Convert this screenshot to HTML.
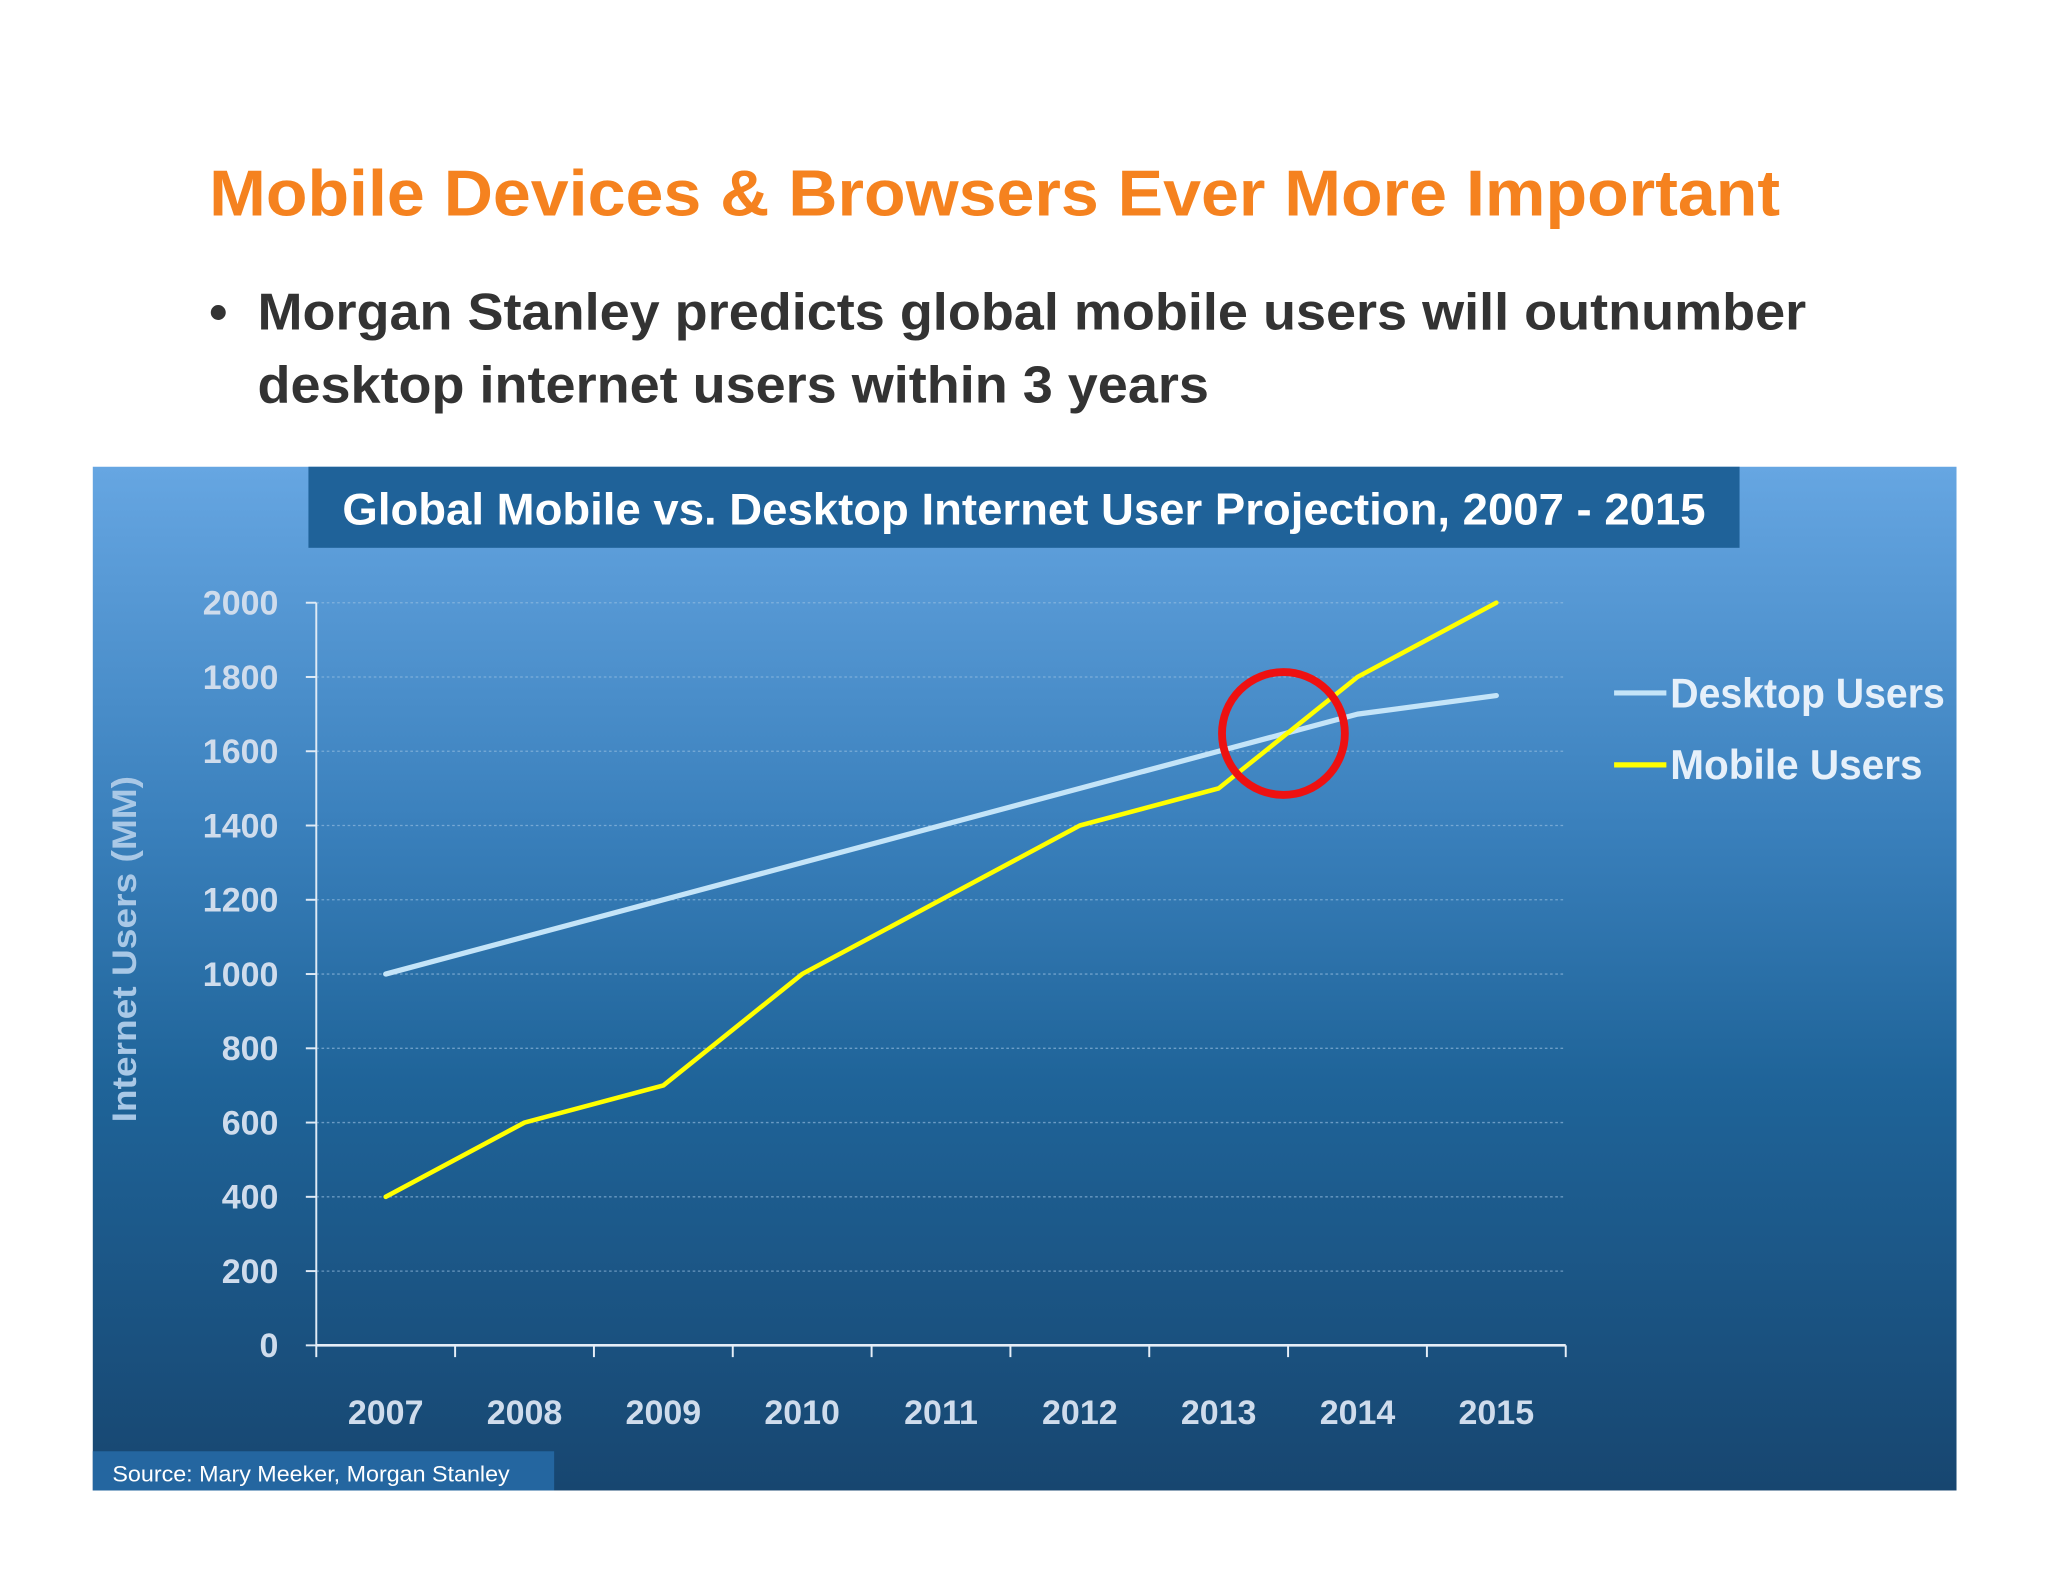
<!DOCTYPE html>
<html><head><meta charset="utf-8">
<style>
html,body{margin:0;padding:0;background:#fff;width:2048px;height:1582px;overflow:hidden}
svg{display:block}
text{font-family:"Liberation Sans",sans-serif}
</style></head>
<body>
<svg id="root" width="2048" height="1582" viewBox="0 0 1567 1210" preserveAspectRatio="none" xmlns="http://www.w3.org/2000/svg">
<defs>
<linearGradient id="bg" x1="0" y1="0" x2="0" y2="1">
<stop offset="0" stop-color="#66a6e2"/>
<stop offset="0.35" stop-color="#3a80bc"/>
<stop offset="0.6" stop-color="#1f6499"/>
<stop offset="1" stop-color="#174670"/>
</linearGradient>
</defs>
<rect width="1567" height="1210" fill="#fff"/>
<text x="160" y="165" font-size="50" font-weight="bold" fill="#f5821f" textLength="1202" lengthAdjust="spacingAndGlyphs">Mobile Devices &amp; Browsers Ever More Important</text>
<text x="160" y="252" font-size="40" font-weight="bold" fill="#333">•</text>
<text x="197" y="252" font-size="40" font-weight="bold" fill="#333" textLength="1185" lengthAdjust="spacingAndGlyphs">Morgan Stanley predicts global mobile users will outnumber</text>
<text x="197" y="308" font-size="40" font-weight="bold" fill="#333" textLength="728" lengthAdjust="spacingAndGlyphs">desktop internet users within 3 years</text>

<rect x="71" y="357" width="1426" height="783" fill="url(#bg)"/>
<rect x="236" y="357" width="1095" height="62" fill="#1f6299"/>
<text x="262" y="401" font-size="34" font-weight="bold" fill="#fff" textLength="1043" lengthAdjust="spacingAndGlyphs">Global Mobile vs. Desktop Internet User Projection, 2007 - 2015</text>
<text transform="translate(104,726) rotate(-90)" text-anchor="middle" font-size="26" font-weight="bold" fill="#a9c8e6" textLength="265" lengthAdjust="spacingAndGlyphs">Internet Users (MM)</text>
<g id="plot"></g>
<ellipse cx="982" cy="561" rx="47" ry="47" fill="none" stroke="#ee1111" stroke-width="6"/>
<line x1="1235" y1="530" x2="1275" y2="530" stroke="#c4e4f8" stroke-width="4"/>
<text x="1278" y="541" font-size="32" font-weight="bold" fill="#e6f0fa" textLength="210" lengthAdjust="spacingAndGlyphs">Desktop Users</text>
<line x1="1235" y1="585" x2="1275" y2="585" stroke="#ffff00" stroke-width="4"/>
<text x="1278" y="596" font-size="32" font-weight="bold" fill="#e6f0fa" textLength="193" lengthAdjust="spacingAndGlyphs">Mobile Users</text>
<rect x="71" y="1110" width="353" height="30" fill="#2466a0"/>
<text x="86" y="1133" font-size="17" fill="#fff" textLength="304" lengthAdjust="spacingAndGlyphs">Source: Mary Meeker, Morgan Stanley</text>
</svg>
<script>
const years = ['2007','2008','2009','2010','2011','2012','2013','2014','2015'];
const desktopUsers = [1000,1100,1200,1300,1400,1500,1600,1700,1750];
const mobileUsers = [400,600,700,1000,1200,1400,1500,1800,2000];
const yTicks = [0,200,400,600,800,1000,1200,1400,1600,1800,2000];

const NS='http://www.w3.org/2000/svg';
const g=document.getElementById('plot');
const X0=242, X1=1198, Y0=1029, Y1=461, YMAX=2000;
const band=(X1-X0)/years.length;
function xPos(i){return X0+band*(i+0.5);}
function yPos(v){return Y0-(v/YMAX)*(Y0-Y1);}
function mk(tag,attrs){const e=document.createElementNS(NS,tag);for(const k in attrs)e.setAttribute(k,attrs[k]);g.appendChild(e);return e;}

yTicks.forEach(v=>{
  const y=yPos(v);
  if(v>0){
    const gl=mk('line',{x1:X0,y1:y,x2:X1,y2:y,stroke:'#9ec3e4','stroke-width':1,'stroke-dasharray':'2 2',opacity:0.6});
    
    
  }
  const tk=mk('line',{x1:X0-8,y1:y,x2:X0,y2:y,stroke:'#dfeaf5','stroke-width':1.5});
  
  
  const t=mk('text',{x:213,y:y+9,'text-anchor':'end','font-size':26,'font-weight':'bold',fill:'#cfdcec'});
  t.textContent=v;
  
  
});
const ya=mk('line',{x1:X0,y1:Y1,x2:X0,y2:Y0,stroke:'#dfeaf5','stroke-width':1.5});


const xa=mk('line',{x1:X0,y1:Y0,x2:X1,y2:Y0,stroke:'#e6eef7','stroke-width':2});


for(let i=0;i<=years.length;i++){
  const x=X0+band*i;
  const tk=mk('line',{x1:x,y1:Y0,x2:x,y2:Y0+9,stroke:'#e6eef7','stroke-width':1.5});
  
  
}
years.forEach((yr,i)=>{
  const t=mk('text',{x:xPos(i),y:1089,'text-anchor':'middle','font-size':26,'font-weight':'bold',fill:'#cfdcec'});
  t.textContent=yr;
  
  
});
function series(vals,color,w,name){
  const pts=vals.map((v,i)=>xPos(i)+','+yPos(v)).join(' ');
  const p=mk('polyline',{points:pts,fill:'none',stroke:color,'stroke-width':w,'stroke-linejoin':'round','stroke-linecap':'round'});
  
  
}
series(desktopUsers,'#c4e4f8',4,'desktop-users-line');
series(mobileUsers,'#ffff00',3.5,'mobile-users-line');
</script>
</body></html>
